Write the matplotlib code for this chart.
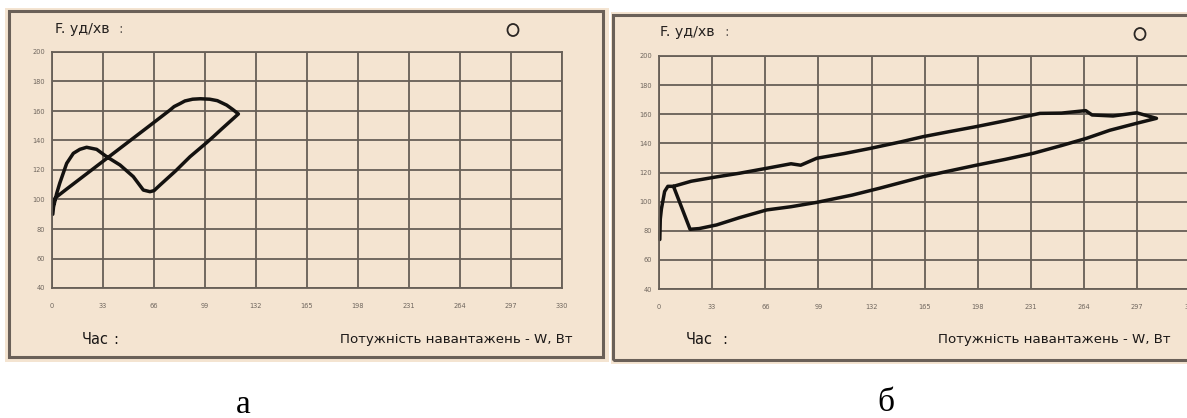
import matplotlib
matplotlib.use("Agg")
import matplotlib.pyplot as plt
from matplotlib.patches import Rectangle, Ellipse

# ---- data -------------------------------------------------------------
x_ticks = [0, 33, 66, 99, 132, 165, 198, 231, 264, 297, 330]
y_ticks = [40, 60, 80, 100, 120, 140, 160, 180, 200]

y_title = "F. уд/хв"
time_label = "Час"
x_title = "Потужність навантажень - W, Вт"
panel_letters = ["а", "б"]

# panel а: load (W) and heart rate (beats/min) along the recorded trace
a_load = [0.5, 1, 3, 5, 9.5, 13.8, 18, 22.4, 28.9, 35.4, 44, 52.6, 59.1, 63.4,
          66, 69.9, 80, 89.3, 100, 104.4, 110, 120.6, 117, 113, 107, 102, 96,
          91, 86, 82.8, 79, 76.4, 65, 50, 35, 20, 10, 2, 1]
a_hr = [90, 95, 104, 111, 124.5, 131.3, 134, 135.4, 134, 129, 123.4, 115.5,
        106.4, 105.3, 106, 109.8, 119.4, 129, 138.5, 142.6, 148, 158, 161,
        164, 167, 168, 168.3, 168, 166.8, 165, 163, 160.7, 151.5, 139.5,
        127.5, 115.5, 107.5, 101, 97]

# panel б
b_load = [0.5, 0.8, 1.5, 3.5, 5.5, 9, 20, 35.8, 50, 66.9, 82, 88, 98, 115,
          131, 150, 164, 180, 197, 215, 232, 236.6, 250, 265, 269, 282, 296.7,
          309, 296.7, 280, 265.6, 250, 232.5, 215, 197, 180, 164, 150, 137,
          120, 98, 82, 66.9, 50, 35.8, 25, 19.3, 9]
b_hr = [74, 88, 95, 107, 110.5, 110.5, 114, 117, 119.5, 122.9, 126, 125,
        129.8, 133, 136.5, 141, 144.6, 148, 151.5, 155.5, 159.5, 160.6, 160.8,
        162.5, 159.5, 158.8, 161, 157.2, 153.8, 149, 143.5, 138.5, 133.2,
        129, 125, 121, 117.1, 113, 109.2, 104.5, 99.5, 96.5, 94.3, 89, 84,
        81.5, 81, 110.5]

# ---- styling ----------------------------------------------------------
W, H = 1187, 418
BG = "#f4e4d1"
GRID = "#675f57"
FRAME = "#6a6058"
INK = "#141210"

fig = plt.figure(figsize=(W / 100, H / 100), dpi=100)
fig.patch.set_facecolor("white")


def fx(px):
    return px / W


def fy(py):
    return 1 - py / H


def panel(bg_box, frame_box, ax_box, load, hr, title_xy, title_colon_x,
          time_xy, time_colon_x, xtitle_xy, ring, xpad):
    bx0, by0, bx1, by1 = bg_box
    fig.add_artist(Rectangle((fx(bx0), fy(by1)), fx(bx1) - fx(bx0),
                             fy(by0) - fy(by1), transform=fig.transFigure,
                             facecolor=BG, edgecolor="none", zorder=0))
    x0, y0, x1, y1 = frame_box
    fig.add_artist(Rectangle((fx(x0), fy(y1)), fx(x1) - fx(x0),
                             fy(y0) - fy(y1), transform=fig.transFigure,
                             facecolor="none", edgecolor=FRAME, lw=2.2,
                             zorder=1))
    l, t, r, b = ax_box
    ax = fig.add_axes([fx(l), fy(b), fx(r) - fx(l), fy(t) - fy(b)])
    ax.set_facecolor(BG)
    ax.set_xlim(0, 330)
    ax.set_ylim(40, 200)
    ax.set_xticks(x_ticks)
    ax.set_yticks(y_ticks)
    ax.grid(True, color=GRID, lw=1.3)
    ax.set_axisbelow(True)
    for s in ax.spines.values():
        s.set_color(GRID)
        s.set_linewidth(1.3)
    ax.tick_params(length=0, labelsize=4.8, labelcolor="#6f665e")
    ax.tick_params(axis="x", pad=xpad)
    ax.tick_params(axis="y", pad=5)
    ax.plot(load, hr, color=INK, lw=2.5, solid_joinstyle="round",
            solid_capstyle="round", clip_on=False)

    tx, ty = title_xy
    fig.text(fx(tx), fy(ty), y_title, fontsize=10.3, color="#262220",
             va="center", ha="left")
    fig.text(fx(title_colon_x), fy(ty), ":", fontsize=10, color="#6a625c",
             va="center")
    cx, cy = time_xy
    fig.text(fx(cx), fy(cy), time_label, fontsize=10.5, color="#1a1716",
             va="center", ha="left")
    fig.text(fx(time_colon_x), fy(cy), ":", fontsize=10.5, color="#1a1716",
             va="center")
    px, py = xtitle_xy
    fig.text(fx(px), fy(py), x_title, fontsize=9.6, color="#1a1716",
             va="center", ha="left")
    rx, ry = ring
    fig.add_artist(Ellipse((fx(rx), fy(ry)), fx(11), 12 / H,
                           transform=fig.transFigure, facecolor="none",
                           edgecolor="#2a2624", lw=1.3, zorder=3))
    return ax


panel((5, 8, 609, 362), (9, 11, 603, 357), (52, 52, 562, 288),
      a_load, a_hr, (55, 29), 118, (82, 339), 113, (340, 339), (513, 30), 10.5)

panel((611, 12, 1187, 364), (613, 15, 1195, 360), (659, 56, 1190.3, 289),
      b_load, b_hr, (660, 32), 724, (686, 339), 722, (938, 340), (1140, 34),
      11)

fig.text(fx(243), fy(405), panel_letters[0], fontsize=24,
         family="Liberation Serif", ha="center", va="center", color="black")
fig.text(fx(886), fy(403), panel_letters[1], fontsize=24,
         family="Liberation Serif", ha="center", va="center", color="black")

fig.savefig("out.png", dpi=100, facecolor=fig.get_facecolor())
